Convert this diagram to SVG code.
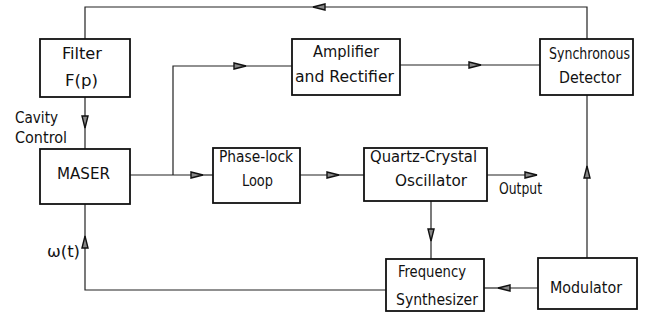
<svg xmlns="http://www.w3.org/2000/svg" width="650" height="322" viewBox="0 0 650 322">
<defs>
<style>
.box{fill:#fff;stroke:#111;stroke-width:1.8}
.ln{fill:none;stroke:#222;stroke-width:1.2}
text{font-family:"DejaVu Sans Condensed","DejaVu Sans","Liberation Sans",sans-serif;font-stretch:condensed;font-size:16px;fill:#111}
</style>
<marker id="ar" markerUnits="userSpaceOnUse" markerWidth="16" markerHeight="10" refX="13" refY="4" orient="auto">
<path d="M1,1 L13,4 L1,7 Z" fill="#888" stroke="#111" stroke-width="1.4"/>
</marker>
</defs>
<rect width="650" height="322" fill="#fff"/>
<g id="connectors">
<path class="ln" d="M587,39 V7 H313" marker-end="url(#ar)"/>
<path class="ln" d="M313,7 H85 V39"/>
<path class="ln" d="M85,97 V128" marker-end="url(#ar)"/>
<path class="ln" d="M85,128 V149"/>
<path class="ln" d="M130,175 H203" marker-end="url(#ar)"/>
<path class="ln" d="M203,175 H213"/>
<path class="ln" d="M173,175 V66 H246" marker-end="url(#ar)"/>
<path class="ln" d="M246,66 H292"/>
<path class="ln" d="M400,65 H481" marker-end="url(#ar)"/>
<path class="ln" d="M481,65 H540"/>
<path class="ln" d="M300,175 H339" marker-end="url(#ar)"/>
<path class="ln" d="M339,175 H364"/>
<path class="ln" d="M487,175 H537" marker-end="url(#ar)"/>
<path class="ln" d="M431,201 V241" marker-end="url(#ar)"/>
<path class="ln" d="M431,241 V259"/>
<path class="ln" d="M538,288 H498" marker-end="url(#ar)"/>
<path class="ln" d="M498,288 H484"/>
<path class="ln" d="M587,258 V166" marker-end="url(#ar)"/>
<path class="ln" d="M587,166 V95"/>
<path class="ln" d="M386,290 H85 V236" marker-end="url(#ar)"/>
<path class="ln" d="M85,236 V204"/>
</g>
<g id="filter"><rect class="box" x="40" y="39" width="90" height="58"/><text x="62" y="59" textLength="40" lengthAdjust="spacingAndGlyphs">Filter</text><text x="65" y="86" textLength="33" lengthAdjust="spacingAndGlyphs">F(p)</text></g>
<g id="maser"><rect class="box" x="40" y="149" width="90" height="55"/><text x="57" y="179" textLength="53" lengthAdjust="spacingAndGlyphs">MASER</text></g>
<g id="amplifier"><rect class="box" x="292" y="39" width="108" height="56"/><text x="313" y="57" textLength="66" lengthAdjust="spacingAndGlyphs">Amplifier</text><text x="295" y="82" textLength="99" lengthAdjust="spacingAndGlyphs">and  Rectifier</text></g>
<g id="sync"><rect class="box" x="540" y="39" width="93" height="56"/><text x="549" y="59" textLength="81" lengthAdjust="spacingAndGlyphs">Synchronous</text><text x="559" y="83" textLength="62" lengthAdjust="spacingAndGlyphs">Detector</text></g>
<g id="phaselock"><rect class="box" x="213" y="148" width="87" height="55"/><text x="219" y="162" textLength="74" lengthAdjust="spacingAndGlyphs">Phase-lock</text><text x="242" y="186" textLength="31" lengthAdjust="spacingAndGlyphs">Loop</text></g>
<g id="quartz"><rect class="box" x="364" y="148" width="123" height="53"/><text x="370" y="162" textLength="107" lengthAdjust="spacingAndGlyphs">Quartz-Crystal</text><text x="395" y="186" textLength="72" lengthAdjust="spacingAndGlyphs">Oscillator</text></g>
<g id="synth"><rect class="box" x="386" y="259" width="98" height="52"/><text x="398" y="277" textLength="68" lengthAdjust="spacingAndGlyphs">Frequency</text><text x="396" y="305" textLength="82" lengthAdjust="spacingAndGlyphs">Synthesizer</text></g>
<g id="modulator"><rect class="box" x="538" y="258" width="99" height="51"/><text x="550" y="293" textLength="72" lengthAdjust="spacingAndGlyphs">Modulator</text></g>
<g id="labels">
<text x="15" y="123" textLength="43" lengthAdjust="spacingAndGlyphs">Cavity</text>
<text x="15" y="143" textLength="52" lengthAdjust="spacingAndGlyphs">Control</text>
<text x="499" y="194" textLength="43" lengthAdjust="spacingAndGlyphs">Output</text>
<text x="47" y="257" textLength="33" lengthAdjust="spacingAndGlyphs">ω(t)</text>
</g>
</svg>
